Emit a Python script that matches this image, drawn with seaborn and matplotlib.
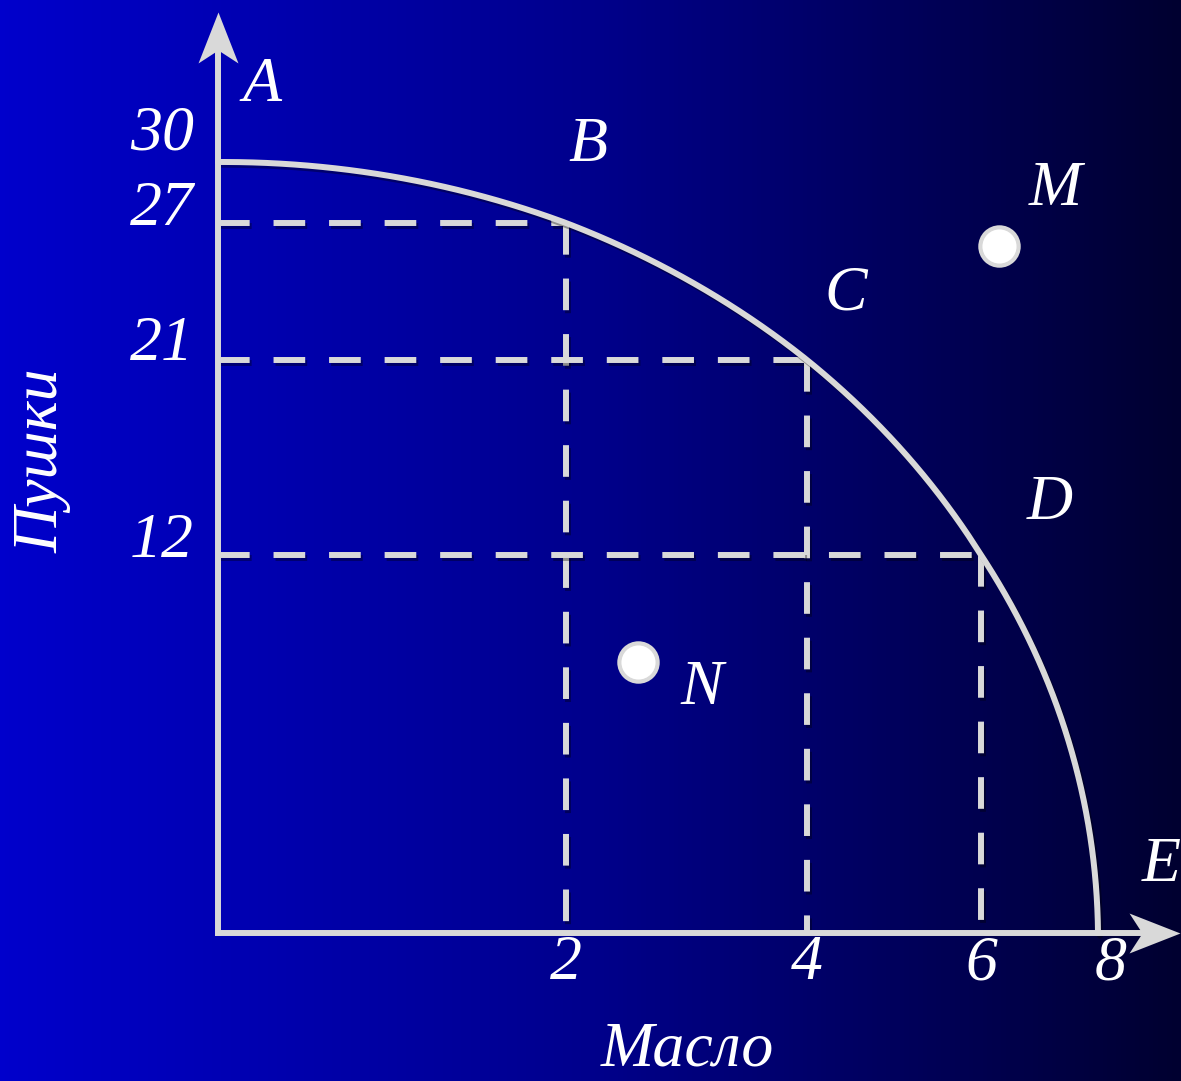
import numpy as np
import matplotlib
matplotlib.use("Agg")
import matplotlib.pyplot as plt
import matplotlib.patheffects as pe
from matplotlib.colors import LinearSegmentedColormap
from matplotlib.markers import MarkerStyle
from matplotlib.path import Path
from matplotlib.transforms import blended_transform_factory
import seaborn as sns

# кривая производственных возможностей: масло / пушки
butter = [0, 2, 4, 6, 8]
guns = [30, 27, 21, 12, 0]
point_names = ["A", "B", "C", "D", "E"]
x_tick_labels = ["2", "4", "6", "8"]
y_tick_labels = ["30", "27", "21", "12"]
extra_names = ["M", "N"]
extra_butter = [6.3, 2.6]
extra_guns = [26.0, 8.6]

# the slide is hand drawn, so the axes are stretched unevenly
x_knots = [-10, 0, 2, 4, 6, 8, 20]
x_px = [-1090, 0, 348, 589, 763, 880, 1582]
y_knots = [-10, 0, 12, 21, 27, 30, 50]
y_px = [-315, 0, 378, 573, 710, 771, 1184]


def fx(v):
    return np.interp(v, x_knots, x_px)


def fx_inv(p):
    return np.interp(p, x_px, x_knots)


def fy(v):
    return np.interp(v, y_knots, y_px)


def fy_inv(p):
    return np.interp(p, y_px, y_knots)


W, H = 1181, 1081
ORIGIN = (218, 933)
LINE = "#d9d9d9"
LW = 4.3
shadow = [pe.SimpleLineShadow(offset=(1.5, -2), shadow_color="black", alpha=0.35), pe.Normal()]

sns.set_style("white")
plt.rcParams["font.family"] = ["Liberation Serif", "DejaVu Serif"]

fig = plt.figure(figsize=(W / 100, H / 100), dpi=100)

# фон с градиентом
bg = fig.add_axes([0, 0, 1, 1])
cmap = LinearSegmentedColormap.from_list("slide", ["#0000cc", "#00008c", "#000030"])
bg.imshow(np.linspace(0, 1, 256)[None, :], aspect="auto", cmap=cmap, extent=[0, 1, 0, 1])
bg.axis("off")

ax = fig.add_axes([0, 0, 1, 1])
ax.patch.set_alpha(0)

# гладкая кривая через точки A..E (в координатах рисунка)
X = fx(butter)
Y = fy(guns)
a, b = X[-1], Y[0]
phi = np.arctan2(Y / b, X / a)
r = np.hypot(X / a, Y / b)
order = np.argsort(phi)
phi_s = np.linspace(0, np.pi / 2, 400)
r_s = np.interp(phi_s, phi[order], r[order])
curve_x = fx_inv(a * r_s * np.cos(phi_s))
curve_y = fy_inv(b * r_s * np.sin(phi_s))

# пунктир к точкам B, C, D
dash = (0, (5.3, 4.0))
for bx, gy in zip(butter[1:4], guns[1:4]):
    ax.plot([0, bx], [gy, gy], color=LINE, lw=LW, ls=dash, path_effects=shadow, zorder=2)
    ax.plot([bx, bx], [gy, 0], color=LINE, lw=LW, ls=dash, path_effects=shadow, zorder=2)

sns.lineplot(x=curve_x, y=curve_y, sort=False, estimator=None, color=LINE, lw=LW,
             path_effects=shadow, ax=ax, zorder=3)

sns.scatterplot(x=extra_butter, y=extra_guns, s=760, color="white", edgecolor=LINE,
                linewidth=3, ax=ax, zorder=5)

# оси со стрелками
shaft = dict(arrowstyle="-", color=LINE, lw=LW, shrinkA=0, shrinkB=0, capstyle="projecting")
ax.annotate("", xy=(0, 1 - 50 / H), xycoords=("data", "axes fraction"),
            xytext=(0, 0), textcoords="data", arrowprops=shaft, zorder=4)
ax.annotate("", xy=(1 - 40 / W, 0), xycoords=("axes fraction", "data"),
            xytext=(0, 0), textcoords="data", arrowprops=shaft, zorder=4)

head_up = MarkerStyle(Path([(0, 0), (-20, -51), (0, -38), (20, -51), (0, 0)], closed=True))
head_right = MarkerStyle(Path([(0, 0), (-51, 20), (-38, 0), (-51, -20), (0, 0)], closed=True))
ax.plot([0], [1 - 12 / H], transform=blended_transform_factory(ax.transData, ax.transAxes),
        marker=head_up, ms=73.4, color=LINE, mec="none", ls="none", clip_on=False, zorder=4)
ax.plot([1 - 1 / W], [0], transform=blended_transform_factory(ax.transAxes, ax.transData),
        marker=head_right, ms=73.4, color=LINE, mec="none", ls="none", clip_on=False, zorder=4)

font = dict(style="italic", size=46, color="white", ha="center", va="center_baseline")

label_off = [(44, 83), (22, 84), (39, 72), (69, 58), (63, 74)]
for name, bx, gy, off in zip(point_names, butter, guns, label_off):
    ax.annotate(name, (bx, gy), xytext=off, textcoords="offset pixels", **font)

extra_off = [(57, 63), (63, -20)]
for name, bx, gy, off in zip(extra_names, extra_butter, extra_guns, extra_off):
    ax.annotate(name, (bx, gy), xytext=off, textcoords="offset pixels", **font)

y_label_dy = [35, 20, 22, 20]
for lab, gy, dy in zip(y_tick_labels, guns[:4], y_label_dy):
    ax.annotate(lab, (0, gy), xytext=(-56, dy), textcoords="offset pixels", **font)

x_label_dx = [0, 0, 0, 13]
for lab, bx, dx in zip(x_tick_labels, butter[1:], x_label_dx):
    ax.annotate(lab, (bx, 0), xytext=(dx, -24), textcoords="offset pixels", **font)

fig.text(58 / W, 1 - 461 / H, "Пушки", rotation=90, rotation_mode="anchor",
         style="italic", size=46, color="white", ha="center", va="baseline")
fig.text(687 / W, 1 - 1043 / H, "Масло", **font)

ax.set_xscale("function", functions=(fx, fx_inv))
ax.set_yscale("function", functions=(fy, fy_inv))
ax.set_xlim(fx_inv(-ORIGIN[0]), fx_inv(W - ORIGIN[0]))
ax.set_ylim(fy_inv(ORIGIN[1] - H), fy_inv(ORIGIN[1]))
ax.axis("off")

fig.savefig("out.png", dpi=100)
plt.close(fig)
